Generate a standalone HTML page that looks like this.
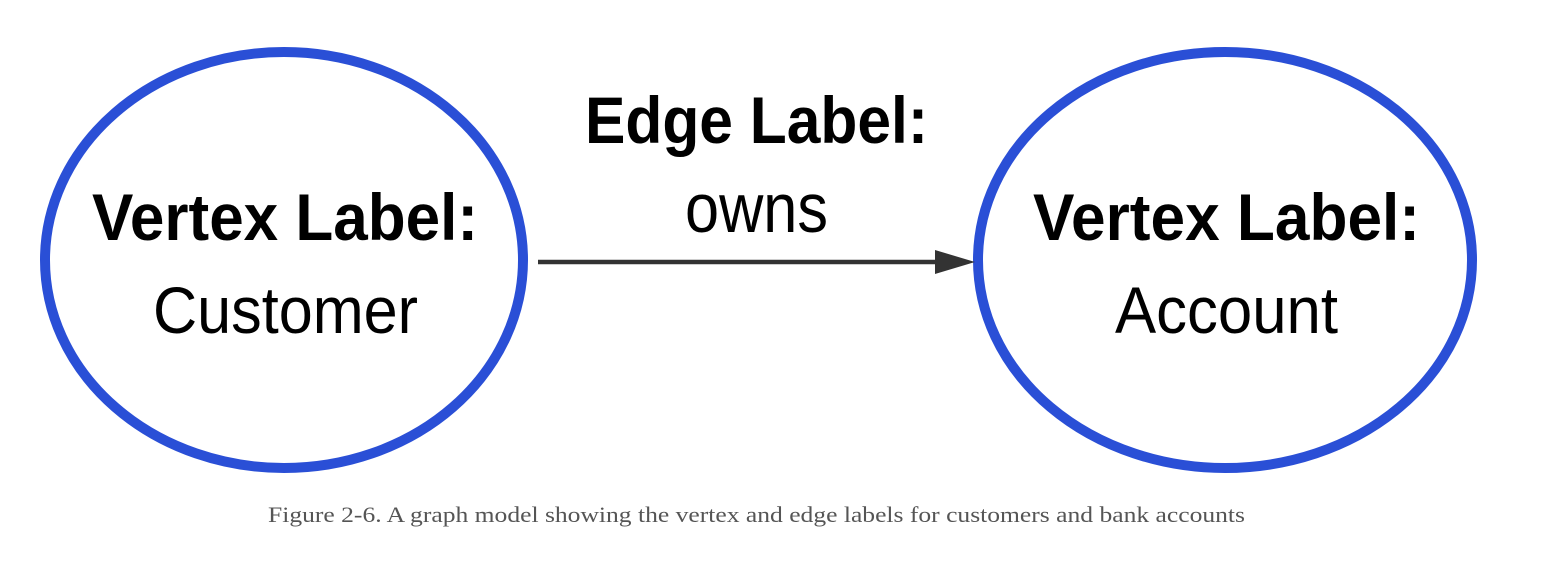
<!DOCTYPE html>
<html><head><meta charset="utf-8"><style>
html,body{margin:0;padding:0;background:#fff;}
</style></head><body>
<svg width="1560" height="556" viewBox="0 0 1560 556" xmlns="http://www.w3.org/2000/svg">
<ellipse cx="284" cy="260" rx="239" ry="208" fill="none" stroke="#2a4fd6" stroke-width="10"/>
<ellipse cx="1225" cy="260" rx="247" ry="208" fill="none" stroke="#2a4fd6" stroke-width="10"/>
<line x1="538" y1="262" x2="940" y2="262" stroke="#333" stroke-width="4.5"/>
<polygon points="935,250 975,262 935,274" fill="#333"/>
<g font-family="Liberation Sans, sans-serif" fill="#000">
<text x="92" y="240" font-size="66" font-weight="bold" textLength="386" lengthAdjust="spacingAndGlyphs">Vertex Label:</text>
<text x="153" y="333" font-size="66" textLength="265" lengthAdjust="spacingAndGlyphs">Customer</text>
<text x="1033" y="240" font-size="66" font-weight="bold" textLength="387" lengthAdjust="spacingAndGlyphs">Vertex Label:</text>
<text x="1115" y="333" font-size="66" textLength="223" lengthAdjust="spacingAndGlyphs">Account</text>
<text x="585" y="143" font-size="66" font-weight="bold" textLength="343" lengthAdjust="spacingAndGlyphs">Edge Label:</text>
<text x="685" y="232" font-size="70" textLength="143" lengthAdjust="spacingAndGlyphs">owns</text>
</g>
<text x="268" y="522" font-family="Liberation Serif, serif" font-size="22" fill="#555" textLength="977" lengthAdjust="spacingAndGlyphs">Figure 2-6. A graph model showing the vertex and edge labels for customers and bank accounts</text>
</svg>
</body></html>
